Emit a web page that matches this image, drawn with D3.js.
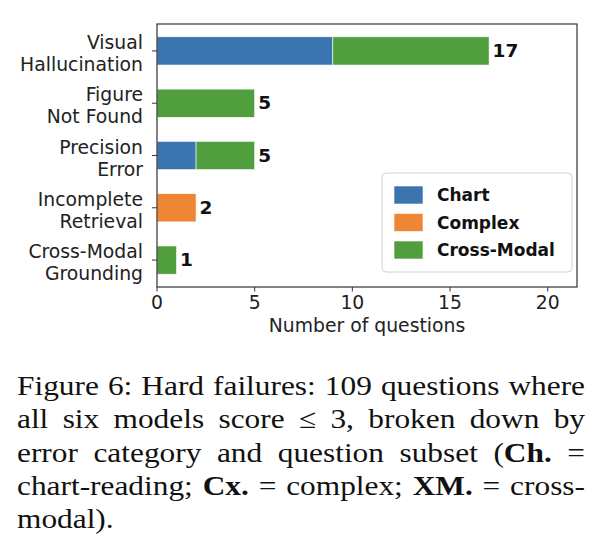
<!DOCTYPE html>
<html><head><meta charset="utf-8">
<script src="https://cdn.jsdelivr.net/npm/d3@7"></script>
<style>body{margin:0;background:#fff}svg{display:block}</style>
</head><body>
<svg id="c" width="606" height="550"></svg>
<script>
const categories = [["Visual","Hallucination"],["Figure","Not Found"],["Precision","Error"],["Incomplete","Retrieval"],["Cross-Modal","Grounding"]];
const seriesNames = ["Chart","Complex","Cross-Modal"];
const chartVals = [9,0,2,0,0];
const complexVals = [0,0,0,2,0];
const crossVals = [8,5,3,0,1];
const xTicks = [0,5,10,15,20];
const colors = ["#3a75b0","#ef8636","#519e3e"];
const captionLines = [
  "Figure 6: Hard failures: 109 questions where",
  "all six models score ≤ 3, broken down by",
  "error category and question subset (**Ch.** =",
  "chart-reading; **Cx.** = complex; **XM.** = cross-",
  "modal)."
];

const svg = d3.select("#c");
svg.append("rect").attr("width",606).attr("height",550).attr("fill","#fff");
const L=157,R=577,T=24,B=287;
const x = d3.scaleLinear().domain([0,21.5]).range([L,R]);
const y = d3.scaleLinear().domain([-0.515,4.515]).range([T,B]);
const bh = y(0.54)-y(0);
const series=[chartVals,complexVals,crossVals];
const font="DejaVu Sans, sans-serif";
const fs=18.8;

categories.forEach((c,i)=>{
  let acc=0;
  series.forEach((s,k)=>{
    const v=s[i];
    if(v>0){
      svg.append("rect").attr("x",x(acc)).attr("y",y(i)-bh/2).attr("width",x(acc+v)-x(acc)).attr("height",bh)
        .attr("fill",colors[k]).attr("stroke","#fff").attr("stroke-width",0.6);
    }
    acc+=v;
  });
  svg.append("text").attr("x",x(acc)+3.5).attr("y",y(i)+6).attr("font-family",font).attr("font-weight","bold")
    .attr("font-size",18.5).attr("fill","#111").text(acc);
  svg.append("line").attr("x1",L-5).attr("x2",L).attr("y1",y(i)).attr("y2",y(i)).attr("stroke","#333").attr("stroke-width",1);
  const t=svg.append("text").attr("text-anchor","end").attr("font-family",font).attr("font-size",fs).attr("fill","#222");
  t.append("tspan").attr("x",143).attr("y",y(i)-2).text(c[0]);
  t.append("tspan").attr("x",143).attr("y",y(i)+20).text(c[1]);
});

svg.append("rect").attr("x",L).attr("y",T).attr("width",R-L).attr("height",B-T).attr("fill","none").attr("stroke","#333").attr("stroke-width",1.2);
xTicks.forEach(v=>{
  svg.append("line").attr("x1",x(v)).attr("x2",x(v)).attr("y1",B).attr("y2",B+4.5).attr("stroke","#333");
  svg.append("text").attr("x",x(v)).attr("y",309).attr("text-anchor","middle").attr("font-family",font).attr("font-size",fs).attr("fill","#222").text(v);
});
svg.append("text").attr("x",(L+R)/2).attr("y",332).attr("text-anchor","middle").attr("font-family",font).attr("font-size",fs).attr("fill","#222").text("Number of questions");

svg.append("rect").attr("x",382).attr("y",173).attr("width",190).attr("height",99).attr("rx",4).attr("fill","#fff").attr("stroke","#d0d0d0");
seriesNames.forEach((n,k)=>{
  const cy=195+k*27.5;
  svg.append("rect").attr("x",394).attr("y",cy-9).attr("width",29).attr("height",18).attr("fill",colors[k]).attr("stroke","#fff").attr("stroke-width",0.6);
  svg.append("text").attr("x",437).attr("y",cy+6).attr("font-family",font).attr("font-weight","bold").attr("font-size",17).attr("fill","#111").text(n);
});

// caption, justified, glyphs widened to approximate Palatino
const cfont="Liberation Serif, 'Times New Roman', serif", cs=27.5, stretch=1.14;
const capL=17, capR=585;
captionLines.forEach((line,li)=>{
  const by=395+li*33.3;
  const words=line.split(" ");
  const items=words.map(w=>{
    const t=svg.append("text").attr("y",by).attr("font-family",cfont).attr("font-size",cs).attr("fill","#111");
    const parts=w.split("**");
    parts.forEach((p,pi)=>{ if(p.length) t.append("tspan").attr("font-weight",pi%2?"bold":"normal").text(p); });
    const w0=t.node().getComputedTextLength()*stretch;
    t.attr("textLength",w0).attr("lengthAdjust","spacingAndGlyphs");
    return {t, w:w0};
  });
  const total=d3.sum(items,d=>d.w);
  const last = li===captionLines.length-1;
  const gap = last ? cs*0.25 : (capR-capL-total)/(items.length-1);
  let cx=capL;
  items.forEach(it=>{ it.t.attr("x",cx); cx+=it.w+gap; });
});
</script>
</body></html>
